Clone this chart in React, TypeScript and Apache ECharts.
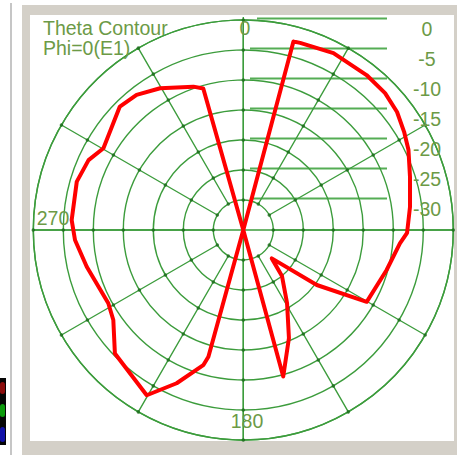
import React, { useEffect, useRef } from "react";
import * as echarts from "echarts";

// ---- data ----
const ringLevels = [-30, -25, -20, -15, -10, -5, 0];
const ringLabels = ["0", "-5", "-10", "-15", "-20", "-25", "-30"];
const spokeAngles = [0, 30, 60, 90, 120, 150, 180, 210, 240, 270, 300, 330];
const titleLines = ["Theta Contour", "Phi=0(E1)"];

// path order of the drawn pattern (angle in degrees clockwise from top, gain in dB)
const patternAngles = [
  14.9, 16.9, 27.0, 38.5, 46.0, 52.5, 58.6, 64.1, 72.4, 82.1, 91.0, 94.9, 105.6,
  120.2, 126.8, 134.9, 139.9, 149.1, 157.1, 164.75, 164.75, 344.2, 340.8, 329.6,
  321.7, 315.0, 300.3, 294.3, 286.2, 273.3, 266.6, 256.8, 241.5, 235.3, 226.1,
  210.3, 203.5, 196.5, 195.4, 195.4, 14.9,
];
const patternGain = [
  -2.5, -2.4, -1.9, -2.0, -2.15, -2.7, -3.6, -4.4, -5.85, -6.95, -7.7, -8.8, -10.2,
  -11.2, -19.7, -28.3, -25.0, -20.8, -15.45, -9.7, -35, -10.5, -9.7, -7.6,
  -6.3, -5.9, -8.0, -6.7, -6.1, -6.35, -6.9, -8.2, -9.4, -8.65, -5.3,
  -3.1, -7.15, -11.5, -13.1, -35, -2.5,
];

const CX = 243.3;
const CY = 230;
const R = 210;
const GRID = "#3c9c3c";
const TXT = "#6c9a46";
const FONT = "19.5px 'Liberation Sans', Arial, sans-serif";

export default function App() {
  const ref = useRef<HTMLDivElement>(null);

  useEffect(() => {
    const chart = echarts.init(ref.current!, null, { renderer: "svg" });

    const dots: number[][] = [];
    ringLevels.forEach((r) => spokeAngles.forEach((a) => dots.push([r, a])));

    const graphics: any[] = [];
    graphics.push({
      type: "line",
      shape: { x1: CX, y1: CY - R - 3, x2: CX, y2: CY + R },
      style: { stroke: GRID, lineWidth: 1.4 },
    });
    graphics.push({
      type: "line",
      shape: { x1: CX - R, y1: CY, x2: CX + R, y2: CY },
      style: { stroke: GRID, lineWidth: 1.4 },
    });
    ringLabels.forEach((lab, k) => {
      const r = R - k * 30;
      const y = CY - r - 1.5;
      graphics.push({
        type: "line",
        shape: { x1: k === 0 ? 257 : 250, y1: y, x2: 387, y2: y },
        style: { stroke: "#55ad55", lineWidth: 1.8 },
      });
      graphics.push({
        type: "text",
        x: 427,
        y: 28.5 + k * 30,
        z: 50,
        style: {
          text: lab,
          fill: TXT,
          font: FONT,
          textAlign: "center",
          textVerticalAlign: "middle",
        },
      });
    });
    const angLabs = [
      { t: "0", x: 245, y: 28 },
      { t: "270", x: 53, y: 218 },
      { t: "180", x: 247, y: 421 },
    ];
    angLabs.forEach((l) =>
      graphics.push({
        type: "text",
        x: l.x,
        y: l.y,
        z: 50,
        style: {
          text: l.t,
          fill: TXT,
          font: FONT,
          textAlign: "center",
          textVerticalAlign: "middle",
        },
      })
    );
    titleLines.forEach((t, i) =>
      graphics.push({
        type: "text",
        x: 43,
        y: 28 + i * 20,
        z: 50,
        style: {
          text: t,
          fill: TXT,
          font: FONT,
          textAlign: "left",
          textVerticalAlign: "middle",
        },
      })
    );

    const option: any = {
      animation: false,
      backgroundColor: "transparent",
      polar: [
        { center: [CX, CY], radius: [0, R] },
        { center: [CX, CY], radius: [30, R] },
      ],
      angleAxis: [
        {
          polarIndex: 0,
          type: "value",
          min: 0,
          max: 360,
          interval: 30,
          startAngle: 90,
          clockwise: true,
          axisLine: { show: true, lineStyle: { color: GRID, width: 1.4 } },
          axisTick: { show: false },
          axisLabel: { show: false },
          splitLine: { show: false },
        },
        {
          polarIndex: 1,
          type: "value",
          min: 0,
          max: 360,
          interval: 30,
          startAngle: 90,
          clockwise: true,
          axisLine: { show: false },
          axisTick: { show: false },
          axisLabel: { show: false },
          splitLine: { show: true, lineStyle: { color: GRID, width: 1.4 } },
        },
      ],
      radiusAxis: [
        {
          polarIndex: 0,
          type: "value",
          min: -35,
          max: 0,
          interval: 5,
          axisLine: { show: false },
          axisTick: { show: false },
          axisLabel: { show: false },
          splitLine: { show: true, lineStyle: { color: GRID, width: 1.4 } },
        },
        {
          polarIndex: 1,
          type: "value",
          min: 0,
          max: 1,
          axisLine: { show: false },
          axisTick: { show: false },
          axisLabel: { show: false },
          splitLine: { show: false },
        },
      ],
      graphic: graphics,
      series: [
        {
          type: "scatter",
          coordinateSystem: "polar",
          polarIndex: 0,
          symbolSize: 3.5,
          itemStyle: { color: "#1c6a1c" },
          data: dots,
          silent: true,
          z: 1,
        },
        {
          type: "line",
          coordinateSystem: "polar",
          polarIndex: 0,
          symbol: "none",
          smooth: false,
          lineStyle: { color: "#ff0000", width: 4, join: "round", cap: "round" },
          data: patternAngles.map((a, i) => [patternGain[i], a]),
          z: 5,
        },
      ],
    };
    chart.setOption(option);
    return () => chart.dispose();
  }, []);

  return (
    <div
      style={{
        position: "fixed",
        left: 0,
        top: 0,
        width: 457,
        height: 455,
        background: "#ffffff",
        overflow: "hidden",
      }}
    >
      <div style={{ position: "absolute", left: 10, top: 3, width: 2, height: 452, background: "#c6c6c6" }} />
      <div style={{ position: "absolute", left: 0, top: 378, width: 6, height: 67, background: "#050505" }} />
      <div style={{ position: "absolute", left: 0, top: 382, width: 5, height: 12, background: "#8a0c0c", borderRadius: 3 }} />
      <div style={{ position: "absolute", left: 0, top: 404, width: 5, height: 13, background: "#0c9a0c", borderRadius: 3 }} />
      <div style={{ position: "absolute", left: 0, top: 427, width: 5, height: 15, background: "#1010a8", borderRadius: 3 }} />
      <div style={{ position: "absolute", left: 22, top: 5, width: 435, height: 450, background: "#d4d0c8" }} />
      <div style={{ position: "absolute", left: 30, top: 15, width: 424, height: 426, background: "#ffffff" }} />
      <div ref={ref} style={{ position: "absolute", left: 0, top: 0, width: 457, height: 455 }} />
    </div>
  );
}
